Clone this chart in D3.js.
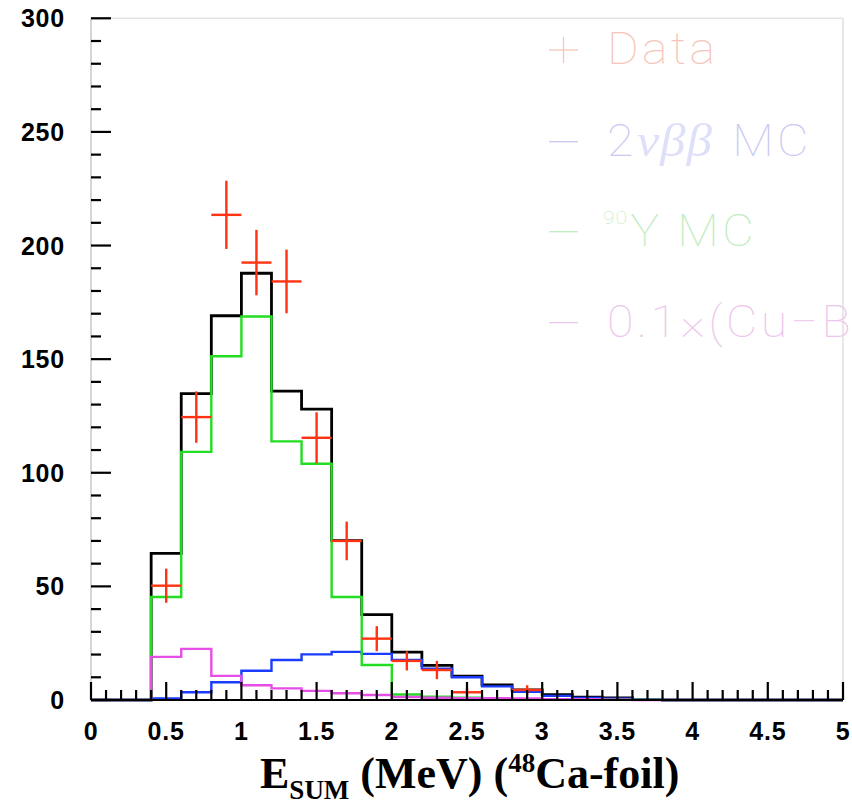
<!DOCTYPE html>
<html>
<head>
<meta charset="utf-8">
<script src="https://cdn.jsdelivr.net/npm/d3@7/dist/d3.min.js"></script>
<style>
  html, body { margin: 0; padding: 0; background: #ffffff; }
  svg { display: block; }
</style>
</head>
<body>
<svg id="chart" width="852" height="805"></svg>
<script>
// Summed-energy spectrum, 0.2 MeV bins starting at 0.4 MeV (lower bin edges)
const binLow = [0.4, 0.6, 0.8, 1.0, 1.2, 1.4, 1.6, 1.8, 2.0, 2.2, 2.4, 2.6, 2.8, 3.0, 3.2, 3.4, 3.6];
const binWidth = 0.2;

// Monte Carlo components (counts per bin)
const totalMC = [64.5, 134.8, 169.1, 187.8, 135.9, 128.0, 70.1, 37.6, 21.1, 15.2, 10.5, 6.7, 4.5, 2.3, 1.2, 0.9, 0.3];
const nu2bbMC = [0.7, 3.4, 7.8, 12.9, 17.6, 20.1, 21.2, 20.3, 17.6, 13.8, 10.0, 6.0, 3.6, 1.8, 0.9, 0.6, 0.2];
const y90MC   = [45.3, 109.2, 151.3, 168.8, 113.8, 104.0, 45.3, 15.4, 2.4, 1.5, 1.0, 0.3, 0.3, 0.2, 0.1, 0.1, 0.1];
const cuBkgMC = [19.0, 22.5, 10.6, 6.5, 5.1, 4.0, 3.0, 2.2, 1.3, 1.0, 0.8, 0.8, 0.7, 0.4, 0.3, 0.1, 0.0];

// Measured data points (bin centre, counts, statistical error)
const dataE      = [0.5, 0.7, 0.9, 1.1, 1.3, 1.5, 1.7, 1.9, 2.1, 2.3, 2.5, 2.9];
const dataCounts = [50.3, 124.5, 213.5, 192.5, 184.2, 115.4, 70.0, 27.0, 17.2, 13.2, 3.4, 4.4];
const dataErr    = [7.5, 11.3, 15.0, 14.4, 14.0, 11.2, 8.5, 5.5, 4.2, 4.0, 1.8, 2.1];

// Axis ticks
const xMajorTicks = [0, 0.5, 1, 1.5, 2, 2.5, 3, 3.5, 4, 4.5, 5];
const xTickLabels = ["0", "0.5", "1", "1.5", "2", "2.5", "3", "3.5", "4", "4.5", "5"];
const yMajorTicks = [0, 50, 100, 150, 200, 250, 300];
const yTickLabels = ["0", "50", "100", "150", "200", "250", "300"];

// Legend entries
const legendLabels = ["Data", "2νββ MC", "90Y MC", "0.1×(Cu−Bi)"];

const svg = d3.select("#chart");
const plot = { left: 91, right: 843, top: 18.3, bottom: 700 };

const x = d3.scaleLinear().domain([0, 5]).range([plot.left, plot.right]);
const y = d3.scaleLinear().domain([0, 300]).range([plot.bottom, plot.top]);

// Frame
svg.append("line").attr("x1", plot.left).attr("x2", plot.right)
  .attr("y1", plot.top).attr("y2", plot.top)
  .attr("stroke", "#e4e4e4").attr("stroke-width", 1.5);
svg.append("line").attr("x1", plot.right).attr("x2", plot.right)
  .attr("y1", plot.top).attr("y2", plot.bottom)
  .attr("stroke", "#e0e0e0").attr("stroke-width", 1.5);
svg.append("line").attr("x1", plot.left).attr("x2", plot.left)
  .attr("y1", plot.top).attr("y2", plot.bottom + 1)
  .attr("stroke", "#c8c8c8").attr("stroke-width", 1.5);

// Step outline of a histogram, zero outside the filled bins
function stepPoints(values) {
  const pts = [[0, 0]];
  binLow.forEach((lo, i) => pts.push([lo, values[i]]));
  pts.push([binLow[binLow.length - 1] + binWidth, 0]);
  pts.push([5, 0]);
  return pts;
}
const stepLine = d3.line()
  .x(d => x(d[0]))
  .y(d => y(d[1]))
  .curve(d3.curveStepAfter);

const histograms = [
  { values: totalMC, color: "#000000", width: 2.8 },
  { values: nu2bbMC, color: "#1a3cff", width: 2.4 },
  { values: y90MC,   color: "#22dd22", width: 2.4 },
  { values: cuBkgMC, color: "#e64fe6", width: 2.4 }
];
svg.append("g").selectAll("path")
  .data(histograms)
  .join("path")
  .attr("d", d => stepLine(stepPoints(d.values)))
  .attr("fill", "none")
  .attr("stroke", d => d.color)
  .attr("stroke-width", d => d.width)
  .attr("stroke-linejoin", "miter");

// Data crosses: horizontal bar over the bin width, vertical bar for the error
const dataG = svg.append("g").attr("stroke", "#ff3311").attr("stroke-width", 2.4);
dataE.forEach((e, i) => {
  dataG.append("line")
    .attr("x1", x(e - binWidth / 2)).attr("x2", x(e + binWidth / 2))
    .attr("y1", y(dataCounts[i])).attr("y2", y(dataCounts[i]));
  dataG.append("line")
    .attr("x1", x(e)).attr("x2", x(e))
    .attr("y1", y(dataCounts[i] + dataErr[i])).attr("y2", y(dataCounts[i] - dataErr[i]));
});

// X axis: baseline with upward ticks
const axisG = svg.append("g").attr("stroke", "#000").attr("stroke-width", 2.2);
axisG.append("line").attr("x1", plot.left).attr("x2", plot.right)
  .attr("y1", plot.bottom).attr("y2", plot.bottom);
const xMinor = d3.range(0, 51).map(k => k / 10);
axisG.selectAll("line.xt")
  .data(xMinor)
  .join("line")
  .attr("class", "xt")
  .attr("x1", d => x(d)).attr("x2", d => x(d))
  .attr("y1", plot.bottom)
  .attr("y2", (d, i) => plot.bottom - (i % 5 === 0 ? 18 : 10));

// Y axis: ticks pointing into the frame
const yMinor = d3.range(0, 31).map(k => k * 10);
axisG.selectAll("line.yt")
  .data(yMinor)
  .join("line")
  .attr("class", "yt")
  .attr("x1", plot.left)
  .attr("x2", (d, i) => plot.left + (i % 5 === 0 ? 20 : 10))
  .attr("y1", d => y(d)).attr("y2", d => y(d));

// Tick labels
const labelFont = "'Liberation Sans', Arial, sans-serif";
svg.append("g").selectAll("text")
  .data(xMajorTicks)
  .join("text")
  .attr("x", d => x(d))
  .attr("y", 740)
  .attr("text-anchor", "middle")
  .attr("font-family", labelFont)
  .attr("font-weight", "bold")
  .attr("font-size", 25)
  .attr("letter-spacing", 0.8)
  .text((d, i) => xTickLabels[i]);

svg.append("g").selectAll("text")
  .data(yMajorTicks)
  .join("text")
  .attr("x", 65)
  .attr("y", d => y(d) + 9)
  .attr("text-anchor", "end")
  .attr("font-family", labelFont)
  .attr("font-weight", "bold")
  .attr("font-size", 25)
  .attr("letter-spacing", 0.8)
  .text((d, i) => yTickLabels[i]);

// X axis title: E_SUM (MeV) (48Ca-foil)
const title = svg.append("text")
  .attr("x", 260).attr("y", 788)
  .attr("font-family", "'Liberation Serif', 'Times New Roman', serif")
  .attr("font-weight", "bold")
  .attr("font-size", 44)
  .attr("fill", "#000");
title.append("tspan").text("E");
title.append("tspan").attr("font-size", 27).attr("dy", 11).text("SUM");
title.append("tspan").attr("dy", -11).text(" (MeV) (");
title.append("tspan").attr("font-size", 27).attr("dy", -16).text("48");
title.append("tspan").attr("dy", 16).text("Ca-foil)");

// Legend (pale, hairline glyphs, slightly widened)
const legendColors = ["#f5c6b9", "#c8c9f2", "#c0ecc0", "#edc6ed"];
const legendBase = [64, 155.7, 245.7, 336.7];
const legendFont = "Roboto, 'Open Sans', sans-serif";
const leg = svg.append("g");
legendLabels.forEach((lab, i) => {
  const c = legendColors[i];
  const by = legendBase[i];
  leg.append("line").attr("x1", 549).attr("x2", 578).attr("y1", by - 14).attr("y2", by - 14)
    .attr("stroke", c).attr("stroke-width", 1.3);
  if (i === 0) {
    leg.append("line").attr("x1", 563.5).attr("x2", 563.5).attr("y1", by - 27).attr("y2", by - 1)
      .attr("stroke", c).attr("stroke-width", 1.3);
  }
  const tx = i === 2 ? 603 : 607;
  const t = leg.append("g")
    .attr("transform", `translate(${tx},${by}) scale(1.1,1)`)
    .append("text")
    .attr("x", 0).attr("y", 0)
    .attr("font-family", legendFont)
    .attr("font-weight", 100)
    .attr("font-size", 44)
    .attr("letter-spacing", 3)
    .attr("fill", c);
  if (i === 1) {
    t.append("tspan").text("2");
    t.append("tspan").attr("font-family", "'Liberation Serif', serif").attr("font-style", "italic")
      .attr("font-size", 46).attr("letter-spacing", 1).attr("fill", "#dedff8").text("νββ");
    t.append("tspan").attr("dx", 4).text(" MC");
  } else if (i === 2) {
    t.append("tspan").attr("font-size", 19).attr("letter-spacing", 1).attr("dy", -22).text("90");
    t.append("tspan").attr("dy", 22).attr("dx", 2).text("Y MC");
  } else {
    t.text(lab);
  }
});
</script>
</body>
</html>
